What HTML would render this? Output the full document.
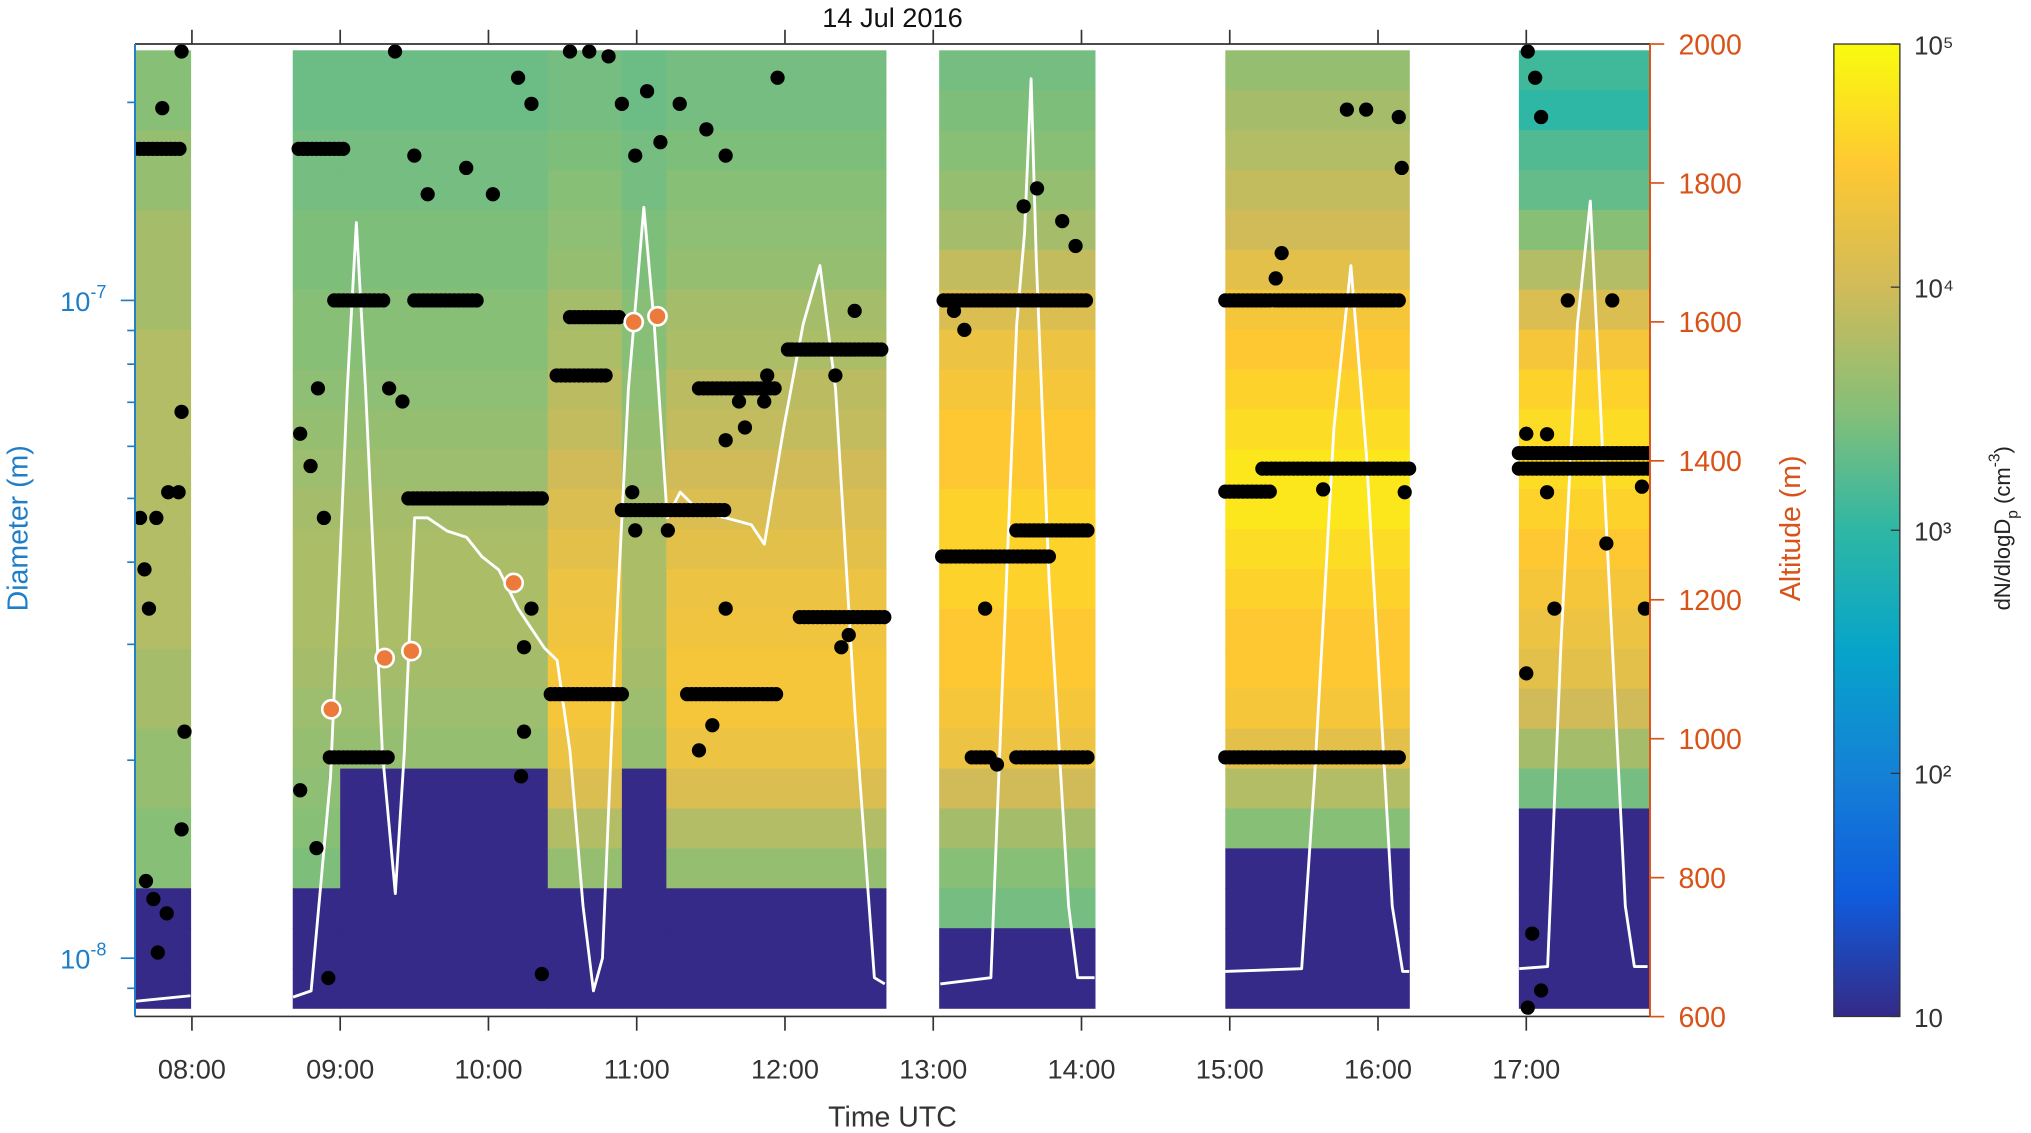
<!DOCTYPE html>
<html><head><meta charset="utf-8"><style>
html,body{margin:0;padding:0;background:#fff;}
svg{display:block;font-family:"Liberation Sans",Arial,sans-serif;}
</style></head><body>
<svg id="chart" width="2031" height="1133" viewBox="0 0 1568 875" xmlns="http://www.w3.org/2000/svg">
<defs>
<linearGradient id="parula" x1="0" y1="1" x2="0" y2="0">
<stop offset="0" stop-color="#352a87"/><stop offset="0.125" stop-color="#0f5cdd"/><stop offset="0.25" stop-color="#1481d6"/><stop offset="0.375" stop-color="#06a4ca"/><stop offset="0.5" stop-color="#2eb7a4"/><stop offset="0.625" stop-color="#87bf77"/><stop offset="0.75" stop-color="#d1bb59"/><stop offset="0.875" stop-color="#fec832"/><stop offset="1" stop-color="#f9fb0e"/>
</linearGradient>
<clipPath id="plotclip"><rect x="104" y="34" width="1170" height="751"/></clipPath>
</defs>
<g id="heat" clip-path="url(#plotclip)"></g>
<g id="alt" clip-path="url(#plotclip)"></g>
<g id="dots" clip-path="url(#plotclip)"></g>
<g id="odots"></g>
<g id="axes"></g>
<text x="689" y="21" font-size="21" text-anchor="middle" fill="#111">14 Jul 2016</text>
<text x="689" y="870" font-size="22" text-anchor="middle" fill="#333">Time UTC</text>
<text transform="translate(21,408) rotate(-90)" font-size="22" text-anchor="middle" fill="#1f7ec8">Diameter  (m)</text>
<text transform="translate(1390,408) rotate(-90)" font-size="22" text-anchor="middle" fill="#d95319">Altitude (m)</text>
<rect x="1416" y="34" width="51" height="751" fill="url(#parula)" stroke="#333" stroke-width="1"/>
<g id="cbar"></g>
<text transform="translate(1552,408) rotate(-90)" font-size="17" text-anchor="middle" fill="#222">dN/dlogD<tspan font-size="12" dy="6">p</tspan><tspan dy="-6"> (cm</tspan><tspan font-size="12" dy="-8">-3</tspan><tspan dy="8">)</tspan></text>
</svg>
<script>
// ---------- data ----------
const xTickLabels = ["08:00","09:00","10:00","11:00","12:00","13:00","14:00","15:00","16:00","17:00"];
const xTickHours = [8,9,10,11,12,13,14,15,16,17];
const altTicks = [600,800,1000,1200,1400,1600,1800,2000];
const cbarExp = [1,2,3,4,5];
const cbarLabels = ["10","10²","10³","10⁴","10⁵"];
// heatmap blocks: start hour, end hour, profile id, navy cutoff diameter (nm)
const blockStart = [7.616,8.68,9.0,10.4,10.9,11.2,13.04,14.97,16.95];
const blockEnd   = [7.99,9.0,10.4,10.9,11.2,12.68,14.09,16.21,17.83];
const blockProf  = ["A","B","B","C","B","C","D","E","F"];
const blockCut   = [12.5,12,20.5,13,20.5,12,10.5,15.5,17];
// log10 concentration per diameter row (top = large diameter)
const profA=[3.5,3.5,3.6,3.6,3.7,3.7,3.7,3.8,3.8,3.8,3.8,3.8,3.8,3.8,3.8,3.7,3.7,3.6,3.6,3.5,3.5,3.4,3.4,3.4];
const profB=[3.35,3.35,3.4,3.4,3.45,3.45,3.5,3.5,3.55,3.6,3.65,3.7,3.75,3.75,3.75,3.7,3.65,3.6,3.55,3.5,3.45,3.4,3.35,3.3];
const profC=[3.4,3.4,3.45,3.5,3.55,3.6,3.7,3.75,3.85,3.9,4.0,4.1,4.2,4.3,4.35,4.4,4.4,4.3,4.1,3.8,3.6,3.4,3.3,3.3];
const profD=[3.4,3.45,3.5,3.6,3.7,3.9,4.1,4.3,4.4,4.5,4.5,4.6,4.6,4.6,4.5,4.5,4.4,4.3,4.0,3.7,3.5,3.4,3.3,3.3];
const profE=[3.6,3.7,3.8,3.9,4.0,4.2,4.4,4.5,4.6,4.7,4.8,4.8,4.7,4.6,4.5,4.5,4.4,4.2,3.8,3.5,3.3,3.2,3.2,3.2];
const profF=[3.1,3.0,3.2,3.3,3.5,3.8,4.1,4.4,4.6,4.7,4.7,4.6,4.5,4.4,4.3,4.2,4.0,3.7,3.4,3.2,3.1,3.0,3.0,3.0];
// altitude (white line) segments
const altT1=[7.616,7.99]; const altV1=[622,630];
const altT2=[8.682,8.804,8.935,9.048,9.109,9.171,9.284,9.372,9.433,9.502,9.590,9.721,9.852,9.957,10.070,10.201,10.376,10.463,10.550,10.638,10.708,10.769,10.856,10.944,11.048,11.118,11.206,11.293,11.424,11.599,11.773,11.861,11.992,12.123,12.236,12.341,12.472,12.603,12.673];
const altV2=[628,637,945,1504,1743,1504,982,777,982,1318,1318,1299,1290,1262,1243,1187,1131,1113,982,759,637,684,1131,1504,1765,1597,1318,1355,1327,1318,1308,1280,1448,1597,1681,1504,1038,656,647];
const altT3=[13.048,13.389,13.476,13.563,13.616,13.660,13.695,13.782,13.913,13.974,14.088];
const altV3=[647,656,1131,1597,1728,1950,1690,1225,759,656,656];
const altT4=[14.970,15.485,15.572,15.703,15.817,15.921,16.096,16.166,16.210];
const altV4=[665,669,945,1448,1681,1411,759,665,665];
const altT5=[16.952,17.144,17.233,17.345,17.432,17.537,17.668,17.729,17.818];
const altV5=[669,672,1131,1597,1774,1318,759,672,672];
// runs of mode-diameter dots: start hour, end hour, diameter nm
const runStart=[7.616,8.72,8.96,9.50,10.55,13.07,14.97,9.46,14.97,15.22,8.93,13.26,13.56,14.97,10.42,11.34,13.06,13.56,12.10,12.02,16.95,16.95,11.42,10.46,10.90];
const runEnd  =[7.93,9.02,9.29,9.94,10.90,14.04,16.14,10.38,15.27,16.21,9.33,13.39,14.04,16.14,10.90,11.95,13.78,14.04,12.67,12.67,17.82,17.82,11.95,10.81,11.60];
const runNm   =[170,170,100,100,94.3,100,100,50,51.2,55.5,20.2,20.2,20.2,20.2,25.2,25.2,40.8,44.7,33,84.2,58.6,55.5,73.5,76.9,48];
// scattered dots
const dotT=[7.69,7.74,7.77,7.83,7.93,7.91,7.95,7.93,7.65,7.68,7.71,7.76,7.84,7.93,7.80,8.73,8.80,8.85,8.89,8.73,8.84,8.92,9.37,9.50,9.59,9.33,9.42,9.85,10.03,10.20,10.29,10.55,10.81,10.29,10.24,10.24,10.22,10.36,10.68,10.90,11.07,10.99,11.16,11.29,11.47,11.60,11.73,11.88,11.95,12.04,12.38,12.43,11.60,11.51,11.42,10.97,11.21,10.99,11.60,11.69,11.86,12.34,12.47,13.14,13.21,13.61,13.70,13.87,13.96,13.35,13.43,15.79,15.92,16.14,16.16,15.35,15.31,15.63,16.18,17.01,17.06,17.10,17.28,17.58,17.14,17.54,17.19,17.80,17.00,17.04,17.10,17.01,17.78,17.00,17.14];
const dotNm=[13.1,12.3,10.2,11.7,67.7,51.1,22.1,15.7,46.7,39,34,46.7,51.1,239,196,62.7,56,73.5,46.7,18,14.7,9.33,239,166,145,73.5,70.2,159,145,218,199,239,235,34,29.7,22.1,18.9,9.46,239,199,208,166,174,199,182,166,64.1,76.9,218,84.2,29.7,31,34,22.6,20.7,51.1,44.7,44.7,61.3,70.2,70.2,76.9,96.4,96.4,90.2,139,148,132,121,34,19.7,195,195,190,159,118,108,51.6,51.1,239,218,190,100,100,51.1,42.7,34,34,27.1,10.9,8.93,8.41,52.1,62.7,62.6];
// orange markers
const oT=[8.94,9.30,9.48,10.17,10.98,11.14];
const oNm=[23.9,28.6,29.3,37.2,92.7,94.6];

// ---------- scales ----------
const X=t=>104+(t-7.616)*114.5;
const Y=nm=>232-(Math.log10(nm)-2)*508;
const A=a=>34+(2000-a)*107.3/200;
const CB=e=>785-(e-1)*751/4;
const NS="http://www.w3.org/2000/svg";
function mk(tag,attrs,parent){const e=document.createElementNS(NS,tag);for(const k in attrs)e.setAttribute(k,attrs[k]);parent.appendChild(e);return e;}
const stops=[[0,[53,42,135]],[0.125,[15,92,221]],[0.25,[20,129,214]],[0.375,[6,164,202]],[0.5,[46,183,164]],[0.625,[135,191,119]],[0.75,[209,187,89]],[0.875,[254,200,50]],[1,[249,251,14]]];
function parula(v){let f=Math.max(0,Math.min(1,(v-1)/4));for(let i=1;i<stops.length;i++){if(f<=stops[i][0]){const a=stops[i-1],b=stops[i];const u=(f-a[0])/(b[0]-a[0]);const c=a[1].map((x,k)=>Math.round(x+(b[1][k]-x)*u));return `rgb(${c[0]},${c[1]},${c[2]})`;}}return "rgb(249,251,14)";}

// ---------- heatmap ----------
const profs={A:profA,B:profB,C:profC,D:profD,E:profE,F:profF};
const heat=document.getElementById('heat');
const topNm=240,botNm=8.4,nRows=24;
const lt=Math.log10(topNm),lb=Math.log10(botNm);
for(let b=0;b<blockStart.length;b++){
  const prof=profs[blockProf[b]];
  const x0=X(blockStart[b]),x1=X(blockEnd[b]);
  for(let r=0;r<nRows;r++){
    const dTop=Math.pow(10,lt-(lt-lb)*r/nRows),dBot=Math.pow(10,lt-(lt-lb)*(r+1)/nRows);
    const dMid=Math.sqrt(dTop*dBot);
    const v=dMid<blockCut[b]?1:prof[r];
    const cell=mk('rect',{x:x0,y:Y(dTop),width:x1-x0+0.5,height:Y(dBot)-Y(dTop)+0.6,fill:parula(v)},heat);
    
    
  }
}
// ---------- altitude line ----------
const altG=document.getElementById('alt');
[[altT1,altV1],[altT2,altV2],[altT3,altV3],[altT4,altV4],[altT5,altV5]].forEach(([ts,vs])=>{
  const p=mk('polyline',{points:ts.map((t,i)=>X(t)+','+A(vs[i])).join(' '),fill:'none',stroke:'#fff','stroke-width':2.2,'stroke-linejoin':'round'},altG);
  
  
});
// ---------- dots ----------
const dg=document.getElementById('dots');
for(let i=0;i<runStart.length;i++){
  for(let t=runStart[i];t<=runEnd[i]+1e-6;t+=0.03){
    const c=mk('circle',{cx:X(t),cy:Y(runNm[i]),r:5.5,fill:'#000'},dg);
    
    
  }
}
for(let i=0;i<dotT.length;i++){
  const c=mk('circle',{cx:X(dotT[i]),cy:Y(dotNm[i]),r:5.5,fill:'#000'},dg);
  
  
}
const og=document.getElementById('odots');
for(let i=0;i<oT.length;i++){
  const c=mk('circle',{cx:X(oT[i]),cy:Y(oNm[i]),r:7,fill:'#ec7a3a',stroke:'#fff','stroke-width':2},og);
  
  
}
// ---------- axes ----------
const ax=document.getElementById('axes');
mk('line',{x1:104,y1:34,x2:1274,y2:34,stroke:'#333','stroke-width':1.3},ax);
mk('line',{x1:104,y1:785,x2:1274,y2:785,stroke:'#333','stroke-width':1.3},ax);
mk('line',{x1:104,y1:34,x2:104,y2:785,stroke:'#1f7ec8','stroke-width':1.5},ax);
mk('line',{x1:1274,y1:34,x2:1274,y2:785,stroke:'#d95319','stroke-width':1.5},ax);
xTickHours.forEach((h,i)=>{
  const x=X(h);
  mk('line',{x1:x,y1:785,x2:x,y2:796,stroke:'#333','stroke-width':1.3},ax);
  mk('line',{x1:x,y1:34,x2:x,y2:23,stroke:'#333','stroke-width':1.3},ax);
  const t=mk('text',{x:x,y:833,'font-size':21,'text-anchor':'middle',fill:'#333'},ax);
  t.textContent=xTickLabels[i];
  
  
});
// left log ticks
for(let dec=-9;dec<=-7;dec++){for(let m=1;m<=9;m++){
  const nm=m*Math.pow(10,dec)*1e9; const y=Y(nm);
  if(y<34||y>785)continue;
  mk('line',{x1:104,y1:y,x2:m===1?93:98,y2:y,stroke:'#1f7ec8','stroke-width':1.3},ax);
}}
[[-7,100],[-8,10]].forEach(([e,nm])=>{
  const t=mk('text',{x:82,y:Y(nm)+8,'font-size':21,'text-anchor':'end',fill:'#1f7ec8'},ax);
  t.innerHTML='10<tspan font-size="14" dy="-10">'+e+'</tspan>';
  
  
});
altTicks.forEach(a=>{
  const y=A(a);
  mk('line',{x1:1274,y1:y,x2:1285,y2:y,stroke:'#d95319','stroke-width':1.3},ax);
  const t=mk('text',{x:1296,y:y+8,'font-size':22,fill:'#d95319'},ax);
  t.textContent=a;
  
  
});
const cb=document.getElementById('cbar');
cbarExp.forEach((e,i)=>{
  const y=CB(e);
  mk('line',{x1:1467,y1:y,x2:1460,y2:y,stroke:'#333','stroke-width':1},cb);
  const t=mk('text',{x:1478,y:y+8,'font-size':20,fill:'#333'},cb);
  t.textContent=cbarLabels[i];
  
  
});
</script>
</body></html>
